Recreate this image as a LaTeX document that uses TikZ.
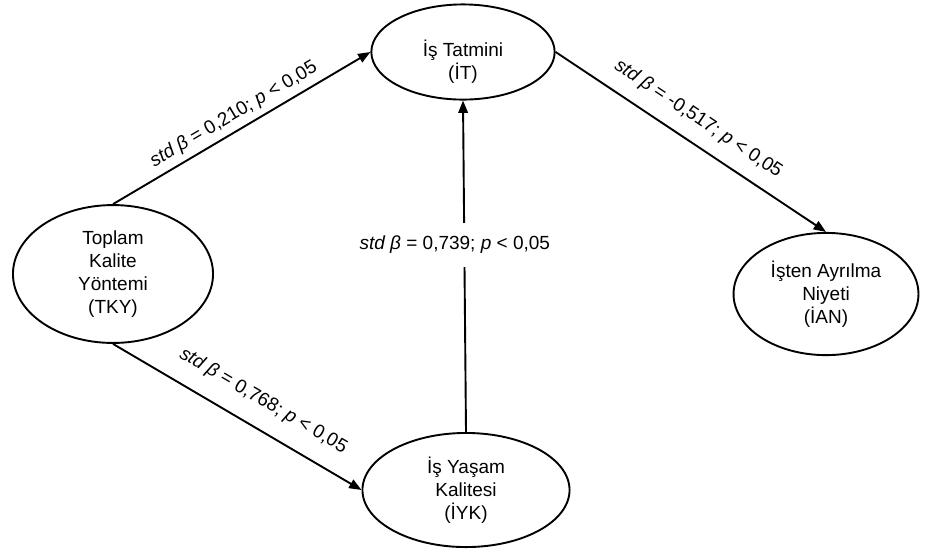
\documentclass[tikz,border=0pt]{standalone}
\usepackage{fontspec}
\setmainfont{Liberation Sans}
\usetikzlibrary{arrows.meta,shapes.geometric,positioning}

\begin{document}
\begin{tikzpicture}[
    x=0.0185cm, y=-0.0185cm,
    var/.style={draw, ellipse, line width=1pt, inner sep=0pt, align=center, font=\normalsize},
    arr/.style={-{Triangle[length=6.5pt,width=5pt]}, line width=1pt},
    lbl/.style={font=\normalsize, sloped, inner sep=2pt}
]
\useasboundingbox (0,0) rectangle (925,549);
\node[var, minimum width=3.7cm, minimum height=2.55cm] (TKY) at (113,274) {Toplam\\Kalite\\Yöntemi\\(TKY)};
\node[var, minimum width=3.39cm, minimum height=1.76cm] (IT) at (463,52) {\rule{0pt}{19pt}İş Tatmini\\(İT)};
\node[var, minimum width=3.42cm, minimum height=2.26cm] (IAN) at (826,294) {İşten Ayrılma\\Niyeti\\(İAN)};
\node[var, minimum width=3.83cm, minimum height=2.11cm] (IYK) at (466,490) {İş Yaşam\\Kalitesi\\(İYK)};

\draw[arr] (TKY.north) -- node[lbl, above=1pt] {\textit{std β} = 0,210; \textit{p} < 0,05} (IT.west);
\draw[arr] (IT.east) -- node[lbl, above=5pt, pos=0.48] {\textit{std β} = -0,517; \textit{p} < 0,05} (IAN.north);
\draw[arr] (TKY.south) -- node[lbl, above=7pt, pos=0.55] {\textit{std β} = 0,768; \textit{p} < 0,05} (IYK.west);
\draw[arr] (IYK.north) -- node[fill=white, pos=0.565, inner xsep=2pt, inner ysep=7pt, xshift=-5pt] {\textit{std β} = 0,739; \textit{p} < 0,05} (IT.south);
\end{tikzpicture}
\end{document}
